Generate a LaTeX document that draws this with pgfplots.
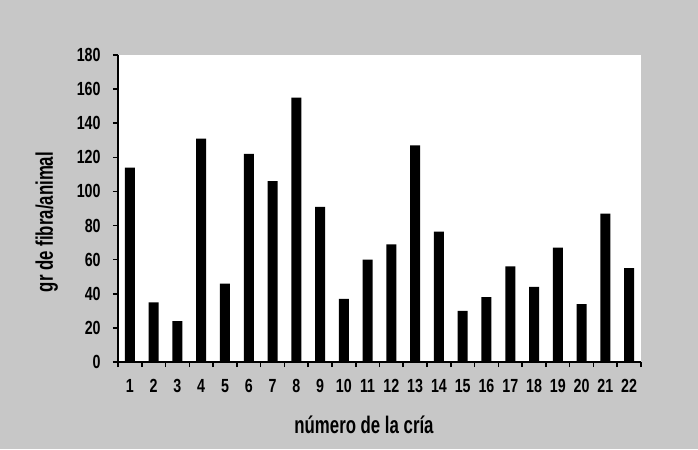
\documentclass[border=0pt]{standalone}
\usepackage{fontspec}
\setmainfont{Liberation Sans}[FakeStretch=0.8]
\newfontfamily\tickfont{Liberation Sans}[FakeStretch=0.75]
\newfontfamily\labelfont{Liberation Sans}[FakeStretch=0.7]
\usepackage{pgfplots}
\pgfplotsset{compat=1.18}
\usetikzlibrary{backgrounds,calc}
\begin{document}
\begin{tikzpicture}
\begin{axis}[
  name=ax,
  scale only axis,
  width=261.5pt, height=153.5pt,
  xmin=0.5, xmax=22.5,
  ymin=0, ymax=180,
  axis lines*=left,
  axis line style={line width=0.8pt},
  axis background/.style={fill=white},
  xtick={1,...,22},
  minor xtick={0.5,1.5,...,22.5},
  ytick={0,20,...,180},
  minor ytick={0,20,...,180},
  major tick length=0pt,
  minor tick length=2.5pt,
  tick align=outside,
  minor tick style={line width=0.8pt, black},
  /pgf/number format/assume math mode=true,
  tick label style={font=\fontsize{9.5}{11}\tickfont\bfseries},
  xticklabel style={inner sep=0pt, anchor=base, yshift=-15pt},
  yticklabel style={inner sep=0pt, anchor=east, xshift=-8.5pt},
  xlabel={número de la cría},
  ylabel={gr de fibra/animal},
  label style={font=\fontsize{12}{14}\labelfont\bfseries},
  xlabel style={at={(axis description cs:0.5,0)}, anchor=base, yshift=-35.5pt, xshift=-7.75pt, inner sep=0pt},
  ylabel style={at={(axis description cs:0,0.5)}, anchor=base, xshift=-6.75pt, yshift=32.5pt, inner sep=0pt},
  clip=false,
]
\addplot[ybar, bar width=5pt, fill=black, draw=none] coordinates {
(1,114) (2,35) (3,24) (4,131) (5,46) (6,122) (7,106) (8,155) (9,91) (10,37)
(11,60) (12,69) (13,127) (14,76.5) (15,30) (16,38) (17,56) (18,44) (19,67) (20,34)
(21,87) (22,55)
};
\end{axis}
\begin{scope}[on background layer]
\fill[black!22] ($(ax.south west)+(-59pt,-43.5pt)$) rectangle ($(ax.north east)+(28.5pt,27.5pt)$);
\end{scope}
\end{tikzpicture}
\end{document}
